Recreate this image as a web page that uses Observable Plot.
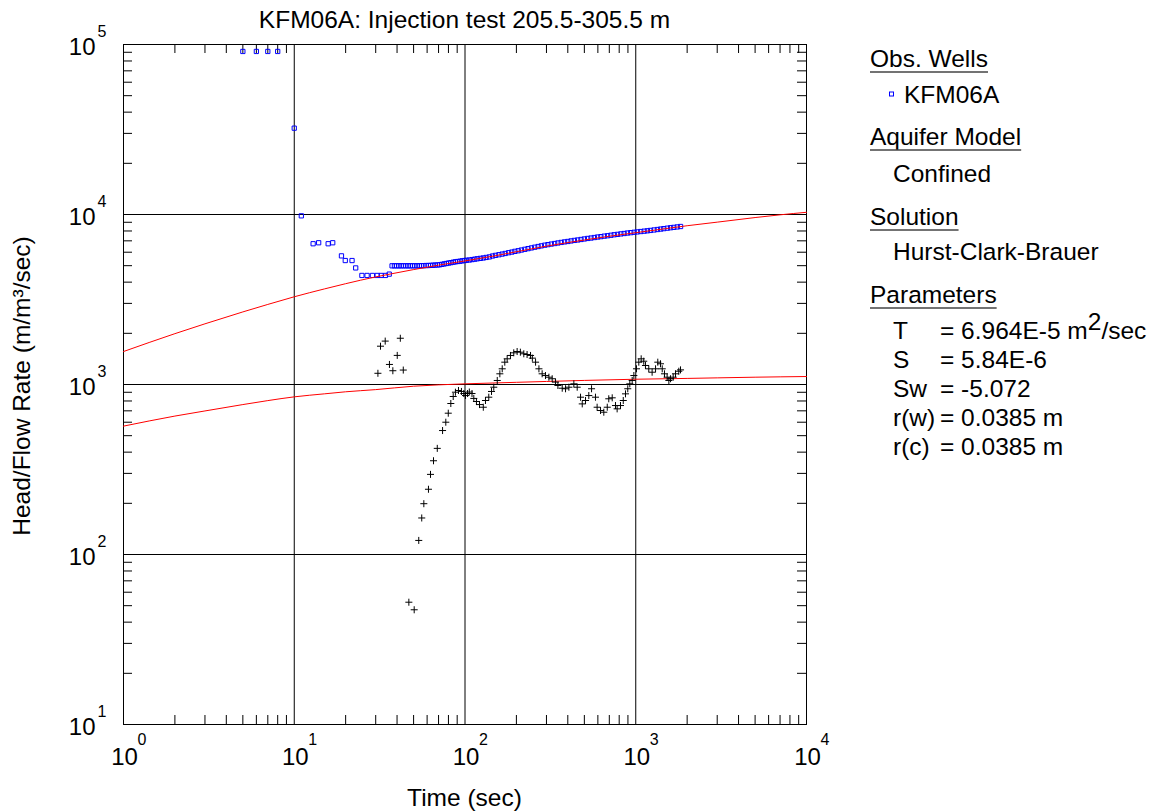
<!DOCTYPE html>
<html><head><meta charset="utf-8">
<script src="https://cdn.jsdelivr.net/npm/d3@7"></script>
<script src="https://cdn.jsdelivr.net/npm/@observablehq/plot@0.6"></script>
<style>
body{margin:0;background:#fff}
svg text{font-family:"Liberation Sans",Arial,sans-serif}
</style>
</head><body><div id="chart"></div>
<script>
// Observed head/flow (blue squares)
const obsTime = [5,6,7,8,10,11,12.9,13.9,15.8,16.8,18.9,19.9,21.8,22.9,24.9,26.7,28.7,30.6,32.3,34.2,36,
37.4,38.6,39.8,41,42.3,43.6,45,46.4,47.8,49.3,50.8,52.4,54,55.7,57.4,59.2,61,62.9,64.8,66.8,68.9,71,73.2,75.5,77.8,80.2,82.7,85.3,87.9,90.6,93.4,96.3,99.3,
102,106,110,114,118,123,128,133,139,145,151,158,165,172,180,188,196,205,214,224,234,245,256,268,280,293,306,320,335,350,366,383,400,418,437,457,478,500,523,547,572,598,625,654,684,715,748,782,818,855,894,935,978,
1020,1070,1120,1170,1220,1280,1340,1400,1460,1530,1600,1670,1750,1830];
const obsHead = [91000,91000,91000,91000,32200,9820,6730,6820,6730,6820,5710,5360,5360,4850,4380,4380,4380,4380,4380,4380,4460,
4990,4990,4990,4990,4990,4990,4990,4990,4990,4990,4990,4990,4990,5000,5000,5010,5010,5020,5030,5040,5050,5060,5090,5120,5150,5180,5210,5240,5270,5290,5310,5340,5360,
5380,5400,5430,5460,5490,5520,5550,5590,5630,5700,5750,5800,5850,5900,5960,6010,6070,6120,6180,6240,6300,6360,6420,6480,6540,6600,6650,6700,6750,6800,6850,6900,6940,6990,7040,7080,7130,7180,7230,7270,7320,7370,7410,7460,7500,7550,7600,7640,7690,7730,7780,7820,7860,
7900,7940,7980,8020,8060,8110,8160,8210,8260,8310,8360,8400,8450,8500];

// Second series (black crosses)
const crossTime = [30.9,32.0,34.1,36.1,37.8,40.1,41.8,43.5,46.9,50.4,53.6,55.8,57.4,61.1,62.8,65.4,68.8,73.9,77.2,79.8,82.6,85.3,87.9,91.6,95.3,98.4,100.7,103.5,106,109.9,112.6,116.7,121.6,
128,131.8,137.8,143,147.4,154.5,160,165.2,171,176.6,184.6,193,202,211,221,231,242,248,259,271,283,296,310,324,339,350,371,388,406,434,454,475,486,508,531,551,581,594,622,650,681,695,728,761,778,814,845,871,898,923,953,975,
1010,1042,1076,1114,1140,1192,1247,1306,1346,1396,1429,1473,1527,1563,1599,1657,1709,1787,1829];
const crossHead = [1164,1680,1800,1312,1205,1483,1871,1216,52.4,47.3,121,164,199,242,296,356,421,536,600,678,773,850,901,922,910,885,861,885,903,885,828,794,762,
735,805,842,910,964,1056,1156,1237,1353,1416,1482,1536,1563,1549,1516,1501,1482,1429,1353,1237,1156,1129,1104,1081,1033,987,951,944,964,1009,964,842,769,805,861,944,842,735,703,687,735,824,835,752,719,752,805,881,944,1009,1056,1129,
1237,1353,1416,1371,1294,1237,1181,1237,1353,1324,1237,1156,1104,1056,1081,1104,1156,1197,1219];

// Fitted curves (red)
const fitTime = [1,2,3,5,7,10,15,20,30,37,50,70,100,150,200,300,500,700,1000,1500,2000,3000,5000,7000,10000];
const fitHead = [1563,1991,2275,2673,2958,3281,3648,3917,4295,4477,4742,5035,5333,5715,6039,6516,7079,7447,7816,8260,8590,9016,9594,9954,10304];
const fit2Time = [1,2,3,5,7,10,15,20,30,50,70,100,200,300,500,1000,2000,3000,5000,10000];
const fit2Head = [569,652,699,762,804,846,881,906,933,977,995,1009,1030,1042,1057,1074,1086,1094,1104,1114];

const decadesX = [1,10,100,1000,10000];
const decadesY = [10,100,1000,10000,100000];
const mantissas = [2,3,4,5,6,7,8,9];
const minorX = decadesX.slice(0,-1).flatMap(d => mantissas.map(m => m*d));
const minorY = decadesY.slice(0,-1).flatMap(d => mantissas.map(m => m*d));

const obs = obsTime.map((t,i) => ({t, h: obsHead[i]}));
const cross = crossTime.map((t,i) => ({t, h: crossHead[i]}));
const fit = fitTime.map((t,i) => ({t, h: fitHead[i]}));
const fit2 = fit2Time.map((t,i) => ({t, h: fit2Head[i]}));

const F = "Liberation Sans, Arial, sans-serif";
const chart = Plot.plot({
  width: 1155, height: 811,
  marginLeft: 123, marginRight: 349, marginTop: 44, marginBottom: 87,
  style: {background: "white", fontFamily: F, fontSize: "24px", color: "black"},
  x: {type: "log", domain: [1, 10000], axis: null},
  y: {type: "log", domain: [10, 100000], axis: null},
  marks: [
    Plot.ruleX(decadesX.slice(1,-1), {stroke: "black", strokeWidth: 1}),
    Plot.ruleY(decadesY.slice(1,-1), {stroke: "black", strokeWidth: 1}),
    Plot.ruleX(minorX, {x: d => d, y1: 10, y2: 10, insetBottom: 9, stroke: "black"}),
    Plot.ruleX(minorX, {x: d => d, y1: 100000, y2: 100000, insetTop: 9, stroke: "black"}),
    Plot.ruleY(minorY, {y: d => d, x1: 1, x2: 1, insetRight: -9, stroke: "black"}),
    Plot.ruleY(minorY, {y: d => d, x1: 10000, x2: 10000, insetLeft: -9, stroke: "black"}),
    Plot.frame({stroke: "black", strokeWidth: 1}),
    Plot.dot(obs, {x: "t", y: "h", symbol: "square", r: 2.4, stroke: "#0000ff", fill: "none", strokeWidth: 1}),
    Plot.line(fit, {x: "t", y: "h", stroke: "#ff0000", strokeWidth: 1, curve: "monotone-x"}),
    Plot.line(fit2, {x: "t", y: "h", stroke: "#ff0000", strokeWidth: 1, curve: "monotone-x"}),
    Plot.dot(cross, {x: "t", y: "h", symbol: "plus", r: 2.4, stroke: "black", strokeWidth: 1}),
    // x tick labels
    Plot.text(decadesX, {x: d => d, y: 10, text: () => "10", dy: 33, dx: 1, fontSize: 24, lineAnchor: "middle", fill: "black"}),
    Plot.text(decadesX, {x: d => d, y: 10, text: d => String(Math.round(Math.log10(d))), dy: 15, dx: 14, textAnchor: "start", fontSize: 16, lineAnchor: "middle", fill: "black"}),
    // y tick labels
    Plot.text(decadesY, {x: 1, y: d => d, text: () => "10", dx: -28, dy: 3, textAnchor: "end", fontSize: 24, lineAnchor: "middle", fill: "black"}),
    Plot.text(decadesY, {x: 1, y: d => d, text: d => String(Math.round(Math.log10(d))), dx: -26, dy: -13, textAnchor: "start", fontSize: 16, lineAnchor: "middle", fill: "black"})
  ]
});
document.getElementById("chart").appendChild(chart);

const svg = d3.select(chart);
const g = svg.append("g").attr("font-family", F).attr("font-size", 24.5).attr("fill", "black").attr("text-anchor", "start");
g.append("text").attr("x", 464.5).attr("y", 28).attr("text-anchor", "middle").text("KFM06A: Injection test 205.5-305.5 m");
g.append("text").attr("x", 464.5).attr("y", 806).attr("text-anchor", "middle").text("Time (sec)");
g.append("text").attr("transform", "translate(30,386) rotate(-90)").attr("text-anchor", "middle").text("Head/Flow Rate (m/m³/sec)");

// Legend
const headings = [["Obs. Wells", 67], ["Aquifer Model", 145], ["Solution", 225], ["Parameters", 303]];
headings.forEach(([txt, y]) => {
  const t = g.append("text").attr("x", 870).attr("y", y).text(txt);
  const w = t.node().getComputedTextLength();
  g.append("line").attr("x1", 870).attr("x2", 870 + w).attr("y1", y + 5).attr("y2", y + 5).attr("stroke", "#444").attr("stroke-width", 1.5);
});
g.append("rect").attr("x", 889.5).attr("y", 92).attr("width", 4).attr("height", 4).attr("fill", "none").attr("stroke", "#0000ff").attr("stroke-width", 1);
g.append("text").attr("x", 904).attr("y", 103).text("KFM06A");
g.append("text").attr("x", 893).attr("y", 182).text("Confined");
g.append("text").attr("x", 893).attr("y", 260).text("Hurst-Clark-Brauer");
const paramNames = ["T", "S", "Sw", "r(w)", "r(c)"];
const paramValues = ["= 6.964E-5 m", "= 5.84E-6", "= -5.072", "= 0.0385 m", "= 0.0385 m"];
const paramY = [339, 368, 397, 426, 455];
paramNames.forEach((n, i) => {
  g.append("text").attr("x", 893).attr("y", paramY[i]).text(n);
  const t = g.append("text").attr("x", 940).attr("y", paramY[i]).text(paramValues[i]);
  if (i === 0) {
    t.append("tspan").attr("dy", -9).text("2");
    t.append("tspan").attr("dy", 9).text("/sec");
  }
});
</script></body></html>
